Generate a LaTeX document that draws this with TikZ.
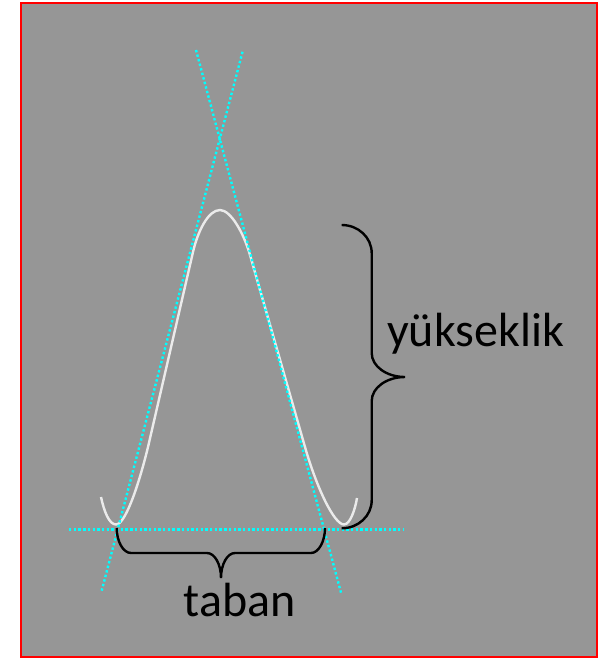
\documentclass[tikz,border=0pt]{standalone}
\usepackage{fontspec}
\setmainfont{Carlito}
\begin{document}
\begin{tikzpicture}[x=1pt,y=-1pt,
  tangentline/.style={draw={rgb,255:red,0;green,255;blue,255}, line width=2.4pt, dash pattern=on 2.4pt off 2.3pt},
  curveline/.style={draw={rgb,255:red,235;green,235;blue,235}, line width=2.4pt},
  braceline/.style={draw=black, line width=2.4pt},
  lbl/.style={font=\fontsize{48}{57}\selectfont, inner sep=0pt, text=black}]
\useasboundingbox (0,0) rectangle (608,659);
\fill[white] (0,0) rectangle (608,659);
\draw[fill={rgb,255:red,150;green,150;blue,150}, draw=red, line width=2pt] (20.5,3) rectangle (597,656.5);
% curve
\draw[curveline] (101,497) .. controls (104,511) and (109,524.5) .. (116,524.5)
  .. controls (126,524.5) and (140,480) .. (148,447)
  -- (193,252)
  .. controls (197.6,232) and (208,210) .. (220,210)
  .. controls (231,210) and (244,234) .. (250,255)
  -- (305,447)
  .. controls (316.4,487) and (334,524.5) .. (344,524.5)
  .. controls (350,524.5) and (355,510) .. (357,498);
% tangent lines
\coordinate (lb) at (101.7,590.7);
\coordinate (lt) at (243,50);
\coordinate (rt) at (196,50);
\coordinate (rb) at (341,592.7);
\coordinate (hl) at (69,529.3);
\coordinate (hr) at (403,529.3);
\draw[tangentline] (lb) -- (lt);
\draw[tangentline] (rt) -- (rb);
\draw[tangentline] (hl) -- (hr);
% right brace
\draw[braceline] (341.7,225) .. controls (358.3,225) and (371.7,237.5) .. (371.7,253)
  -- (371.7,353) .. controls (371.7,366.3) and (386.6,377) .. (405,377)
  .. controls (386.6,377) and (371.7,387.7) .. (371.7,401)
  -- (371.7,500.3) .. controls (371.7,515.8) and (358.3,528.3) .. (341.7,528.3);
% bottom brace
\draw[braceline] (116.7,528) .. controls (116.7,541.3) and (123.1,553) .. (131,553)
  -- (207,553) .. controls (214.7,553) and (221,564.2) .. (221,578)
  .. controls (221,564.2) and (227.3,553) .. (235,553)
  -- (311,553) .. controls (318.7,553) and (325,541.3) .. (325,528);
\node[lbl, anchor=base west] (yuk) at (387,346.7) {yükseklik};
\node[lbl, anchor=base] (taban) at (239.7,616.7) {taban};
\end{tikzpicture}
\end{document}
